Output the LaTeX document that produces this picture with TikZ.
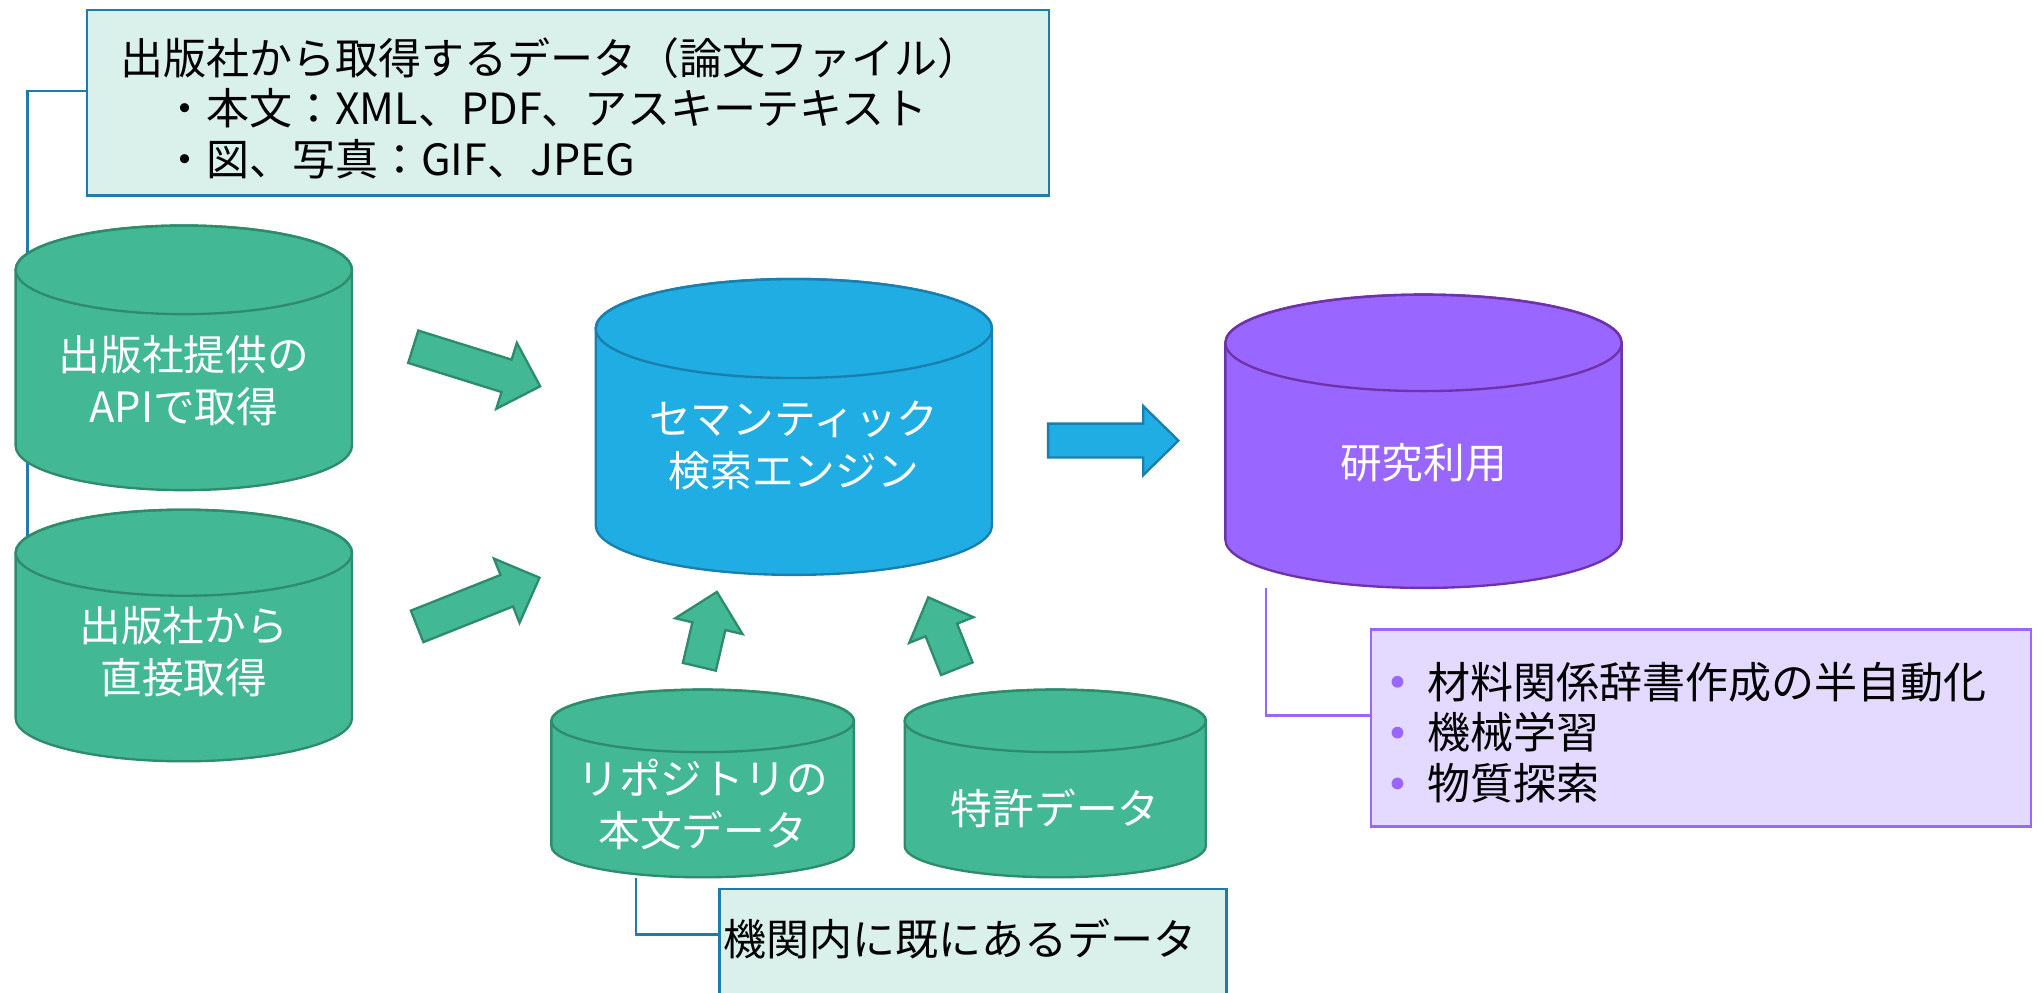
\documentclass[tikz,border=0pt]{standalone}
\usepackage{fontspec}
\setmainfont{Noto Sans CJK JP}
\usetikzlibrary{backgrounds}
\definecolor{grfill}{HTML}{43B895}
\definecolor{grdraw}{HTML}{2E8B6C}
\definecolor{blfill}{HTML}{1FADE3}
\definecolor{bldraw}{HTML}{1A7FAE}
\definecolor{pufill}{HTML}{9966FF}
\definecolor{pudraw}{HTML}{7032A8}
\definecolor{mint}{HTML}{DAF0EA}
\definecolor{callblue}{HTML}{1F7CA8}
\definecolor{lav}{HTML}{E4DAFF}
\tikzset{
 cyltext/.style={text=white, align=center, font=\fontsize{32}{40}\selectfont, inner sep=0pt},
 calltext/.style={text=black, align=left, font=\fontsize{33}{39}\selectfont, inner sep=0pt, anchor=west},
 callbox/.style={draw=callblue, fill=mint, line width=1.8pt, inner sep=0pt, anchor=north west},
 purbox/.style={draw=pufill, fill=lav, line width=1.8pt, inner sep=0pt, anchor=north west},
 bluecon/.style={draw=callblue, line width=1.8pt},
 purcon/.style={draw=pufill, line width=1.8pt},
 garrow/.style={fill=grfill, draw=grdraw, line width=1.8pt, line join=miter},
 barrow/.style={fill=blfill, draw=bldraw, line width=1.8pt, line join=miter},
}
% cylinder: name, x1, x2, ytop, ybottom, ry, fill, draw
\newcommand\cylbox[8]{%
 \path[fill=#7,draw=#8,line width=1.8pt] (#2,{#4+#6}) -- (#2,{#5-#6})
   arc[start angle=180,end angle=0,x radius={(#3-#2)/2},y radius=#6]
   -- (#3,{#4+#6})
   arc[start angle=0,end angle=-180,x radius={(#3-#2)/2},y radius=#6] -- cycle;
 \draw[#8,line width=1.8pt] ({(#2+#3)/2},{#4+#6}) ellipse[x radius={(#3-#2)/2},y radius=#6];
 \node[inner sep=0pt,minimum width={(#3-#2)*1pt},minimum height={(#5-#4)*1pt}] (#1) at ({(#2+#3)/2},{(#4+#5)/2}) {};}
% block arrow: style, tail point, angle, length, name of tip
\newcommand\blockarr[5]{%
 \begin{scope}[shift={#2},rotate=#3]
  \draw[#1] (0,-13) -- ({#4-27},-13) -- ({#4-27},-26.5) -- (#4,0) -- ({#4-27},26.5) -- ({#4-27},13) -- (0,13) -- cycle;
  \coordinate (#5) at (#4,0);
 \end{scope}}
\begin{document}
\begin{tikzpicture}[x=1pt,y=-1pt]
\useasboundingbox (0,0) rectangle (1568,761);
\clip (0,0) rectangle (1568,761);

% callouts
\node[callbox, minimum width=738pt, minimum height=142pt] (pub) at (66,7) {};
\node[calltext] (pubtxt) at (92,83) {出版社から取得するデータ（論文ファイル）\\\hspace*{1em}・本文：XML、PDF、アスキーテキスト\\\hspace*{1em}・図、写真：GIF、JPEG};

\node[purbox, minimum width=506pt, minimum height=151pt] (use) at (1051,482) {};
\fill[pufill] (1072,523) circle (4.5);
\fill[pufill] (1072,562) circle (4.5);
\fill[pufill] (1072,601) circle (4.5);
\node[calltext] (usetxt) at (1095,562) {材料関係辞書作成の半自動化\\機械学習\\物質探索};

\node[callbox, minimum width=389pt, minimum height=89pt] (known) at (551,681) {};
\node[calltext] (knowntxt) at (555,720) {機関内に既にあるデータ};

% cylinders
\cylbox{api1}{12}{270}{173}{376}{34}{grfill}{grdraw}
\node[cyltext] (api1txt) at (141,292) {出版社提供の\\APIで取得};
\cylbox{api2}{12}{270}{391}{584}{33}{grfill}{grdraw}
\node[cyltext] (api2txt) at (141,500) {出版社から\\直接取得};
\cylbox{sem}{457}{761}{214}{441}{38}{blfill}{bldraw}
\node[cyltext] (semtxt) at (609,342) {セマンティック\\検索エンジン};
\cylbox{res}{940}{1244}{226}{451}{37}{pufill}{pudraw}
\node[cyltext] (restxt) at (1092,355) {研究利用};
\cylbox{repo}{423}{655}{529}{673}{24}{grfill}{grdraw}
\node[cyltext] (repotxt) at (539,617) {リポジトリの\\本文データ};
\cylbox{pat}{694}{925}{529}{673}{24}{grfill}{grdraw}
\node[cyltext] (pattxt) at (809.5,620) {特許データ};

% block arrows
\blockarr{garrow}{(317,266)}{-17.3}{102}{tipA}
\blockarr{garrow}{(320,480.5)}{21.7}{101}{tipB}
\blockarr{garrow}{(536.5,511.5)}{76.8}{59}{tipC}
\blockarr{garrow}{(734,513)}{111.8}{59}{tipD}
\blockarr{barrow}{(804,338)}{0}{100}{tipE}

% connectors behind everything
\begin{pgfonlayer}{background}
\fill[white] (0,0) rectangle (1568,761);
\draw[bluecon] ([yshift=9pt]pub.west) -| ([xshift=-120pt,yshift=-30pt]api2.north);
\draw[bluecon] ([xshift=-51pt]repo.south) |- ([yshift=9.5pt]known.west);
\draw[purcon] ([xshift=-121pt]res.south) |- ([yshift=9.5pt]use.west);
\end{pgfonlayer}
\end{tikzpicture}
\end{document}
